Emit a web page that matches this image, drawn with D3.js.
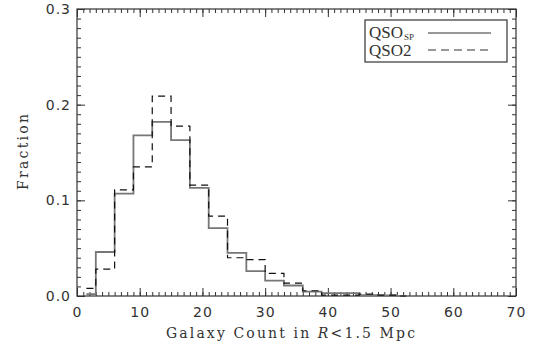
<!DOCTYPE html>
<html><head><meta charset="utf-8">
<script src="https://cdn.jsdelivr.net/npm/d3@7"></script>
<style>
body{margin:0;background:#fff;}
svg{display:block;}
text{fill:#333;}
</style></head>
<body>
<svg id="chart" width="533" height="351"></svg>
<script>
// bin centers (bin width 3)
const binCenters = [1.5,4.5,7.5,10.5,13.5,16.5,19.5,22.5,25.5,28.5,31.5,34.5,37.5,40.5,43.5,46.5,49.5,52.5];
const qsoSP = [0.002,0.046,0.107,0.168,0.182,0.163,0.113,0.071,0.045,0.026,0.016,0.011,0.0045,0.003,0.003,0.001,0.0005,0.0];
const qso2  = [0.008,0.028,0.111,0.135,0.209,0.1775,0.116,0.0835,0.040,0.038,0.0237,0.0134,0.0055,0.001,0.001,0.002,0.001,0.0];
const xTicks = [0,10,20,30,40,50,60,70];
const yTicks = [0.0,0.1,0.2,0.3];

const svg = d3.select("#chart");
const L = 77, R = 516, T = 9, B = 296;
const x = d3.scaleLinear().domain([0,70]).range([L,R]);
const y = d3.scaleLinear().domain([0,0.3]).range([B,T]);

const axisColor = "#333";
function styleAxis(g){
  g.select(".domain").remove();
  g.selectAll("line").attr("stroke",axisColor).attr("stroke-width",1);
}
const xMinor = d3.range(0,71,1);
const yMinor = d3.range(0,0.3001,0.01);

// minor ticks
svg.append("g").attr("transform",`translate(0,${B})`)
  .call(d3.axisBottom(x).tickValues(xMinor).tickSize(-4).tickFormat("")).call(styleAxis);
svg.append("g").attr("transform",`translate(0,${T})`)
  .call(d3.axisTop(x).tickValues(xMinor).tickSize(-4).tickFormat("")).call(styleAxis);
svg.append("g").attr("transform",`translate(${L},0)`)
  .call(d3.axisLeft(y).tickValues(yMinor).tickSize(-4).tickFormat("")).call(styleAxis);
svg.append("g").attr("transform",`translate(${R},0)`)
  .call(d3.axisRight(y).tickValues(yMinor).tickSize(-4).tickFormat("")).call(styleAxis);

// major ticks with labels
const xa = svg.append("g").attr("transform",`translate(0,${B})`)
  .call(d3.axisBottom(x).tickValues(xTicks).tickSize(-8).tickPadding(11).tickFormat(d3.format("d"))).call(styleAxis);
xa.selectAll("text").attr("font-family","DejaVu Sans").attr("font-size",14).attr("fill","#333").style("letter-spacing","1px");
svg.append("g").attr("transform",`translate(0,${T})`)
  .call(d3.axisTop(x).tickValues(xTicks).tickSize(-8).tickFormat("")).call(styleAxis);
const ya = svg.append("g").attr("transform",`translate(${L},0)`)
  .call(d3.axisLeft(y).tickValues(yTicks).tickSize(-8).tickPadding(6).tickFormat(d3.format(".1f"))).call(styleAxis);
ya.selectAll("text").attr("font-family","DejaVu Sans").attr("font-size",14).attr("fill","#333").style("letter-spacing","1px");
svg.append("g").attr("transform",`translate(${R},0)`)
  .call(d3.axisRight(y).tickValues(yTicks).tickSize(-8).tickFormat("")).call(styleAxis);

// frame
svg.append("rect").attr("x",L).attr("y",T).attr("width",R-L).attr("height",B-T)
  .attr("fill","none").attr("stroke",axisColor).attr("stroke-width",1.2);

// histograms
const line = d3.line().x((d,i)=>x(binCenters[i])).y(d=>y(d)).curve(d3.curveStep);
svg.append("path").datum(qsoSP).attr("d",line).attr("fill","none")
  .attr("stroke","#777").attr("stroke-width",1.8);
svg.append("path").datum(qso2).attr("d",line).attr("fill","none")
  .attr("stroke","#111").attr("stroke-width",1.2).attr("stroke-dasharray","7,5");

// legend
const lg = svg.append("g");
lg.append("rect").attr("x",365).attr("y",20).attr("width",142).attr("height",42)
  .attr("fill","#fff").attr("stroke",axisColor).attr("stroke-width",1.2);
const t1 = lg.append("text").attr("x",369).attr("y",38).attr("font-family","Liberation Serif").attr("font-size",17).text("QSO");
const w1 = t1.node().getComputedTextLength();
lg.append("text").attr("x",369+w1+1).attr("y",40).attr("font-family","Liberation Serif").attr("font-size",9).text("SP");
lg.append("text").attr("x",369).attr("y",56).attr("font-family","Liberation Serif").attr("font-size",17).text("QSO2");
lg.append("line").attr("x1",428).attr("x2",491).attr("y1",33).attr("y2",33).attr("stroke","#333").attr("stroke-width",1.2);
lg.append("line").attr("x1",428).attr("x2",491).attr("y1",50).attr("y2",50).attr("stroke","#333").attr("stroke-width",1.2).attr("stroke-dasharray","8,5");

// axis titles
const xt = svg.append("text").attr("x",(166+415)/2).attr("y",338).attr("text-anchor","middle")
  .attr("font-family","DejaVu Serif").attr("font-size",14).attr("textLength",249).attr("lengthAdjust","spacing");
xt.append("tspan").text("Galaxy Count in ");
xt.append("tspan").attr("font-style","italic").text("R");
xt.append("tspan").text("<1.5 Mpc");
svg.append("text").attr("transform","translate(28,152) rotate(-90)").attr("text-anchor","middle")
  .attr("font-family","DejaVu Serif").attr("font-size",14).attr("textLength",76).attr("lengthAdjust","spacing").text("Fraction");
</script>
</body></html>
